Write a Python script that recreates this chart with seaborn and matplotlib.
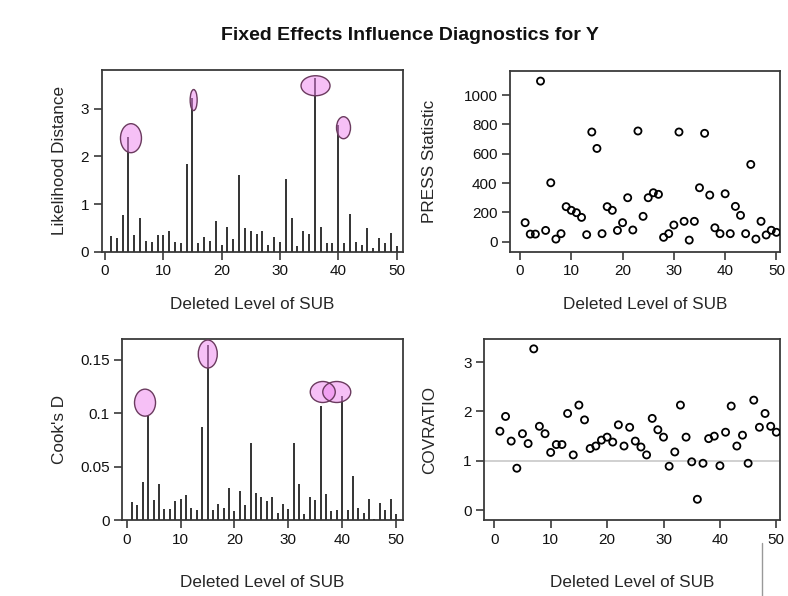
import matplotlib
matplotlib.use("Agg")
import matplotlib.pyplot as plt
import seaborn as sns
import pandas as pd
from matplotlib.patches import Ellipse
from matplotlib.transforms import ScaledTranslation
from matplotlib.lines import Line2D

# ---------------- data ----------------
sub = list(range(1, 51))

lik_dist = [0.33, 0.28, 0.77, 2.41, 0.36, 0.70, 0.23, 0.20, 0.34, 0.36,
            0.44, 0.20, 0.18, 1.84, 3.22, 0.18, 0.31, 0.23, 0.64, 0.15,
            0.52, 0.26, 1.61, 0.49, 0.44, 0.38, 0.44, 0.15, 0.31, 0.20,
            1.53, 0.70, 0.13, 0.44, 0.38, 3.65, 0.52, 0.18, 0.18, 2.66,
            0.18, 0.80, 0.20, 0.15, 0.49, 0.08, 0.28, 0.18, 0.39, 0.13]

press = [130, 52, 52, 1095, 77, 402, 18, 55, 239, 214,
         198, 166, 48, 748, 636, 55, 239, 214, 77, 130,
         300, 80, 755, 173, 300, 334, 323, 30, 55, 114,
         748, 139, 11, 139, 368, 739, 318, 95, 55, 327,
         55, 241, 180, 55, 527, 18, 139, 46, 78, 64]

cooks_d = [0.0172, 0.0140, 0.0360, 0.0975, 0.0184, 0.0340, 0.0103, 0.0103, 0.0175, 0.0197,
           0.0234, 0.0116, 0.0090, 0.0875, 0.1640, 0.0090, 0.0150, 0.0116, 0.0300, 0.0080,
           0.0270, 0.0140, 0.0720, 0.0256, 0.0220, 0.0175, 0.0220, 0.0070, 0.0150, 0.0103,
           0.0720, 0.0340, 0.0060, 0.0220, 0.0188, 0.1070, 0.0247, 0.0080, 0.0090, 0.1160,
           0.0090, 0.0410, 0.0116, 0.0070, 0.0200, 0.0010, 0.0156, 0.0097, 0.0197, 0.0056]

covratio = [1.60, 1.90, 1.40, 0.85, 1.55, 1.35, 3.27, 1.70, 1.55, 1.17,
            1.33, 1.33, 1.96, 1.12, 2.13, 1.83, 1.25, 1.30, 1.42, 1.48,
            1.38, 1.73, 1.30, 1.68, 1.40, 1.28, 1.12, 1.86, 1.63, 1.48,
            0.89, 1.18, 2.13, 1.48, 0.98, 0.22, 0.95, 1.45, 1.50, 0.90,
            1.58, 2.11, 1.30, 1.52, 0.95, 2.23, 1.68, 1.96, 1.70, 1.58]

# highlighted (circled) observations: centres in data units
lik_mark_x = [4.45, 15.2, 36.1, 40.9]
lik_mark_y = [2.38, 3.18, 3.48, 2.60]
cook_mark_x = [3.4, 15.05, 36.4, 39.0]
cook_mark_y = [0.110, 0.1556, 0.120, 0.120]

title = "Fixed Effects Influence Diagnostics for Y"
xlabel = "Deleted Level of SUB"
x_ticks = [0, 10, 20, 30, 40, 50]

df = pd.DataFrame({"SUB": sub, "LD": lik_dist, "PRESS": press,
                   "CookD": cooks_d, "COVRATIO": covratio})

# ---------------- style ----------------
sns.set_style("white")
plt.rcParams["font.family"] = ["Liberation Sans", "DejaVu Sans"]
plt.rcParams["axes.edgecolor"] = "#3a3a3a"
plt.rcParams["axes.linewidth"] = 1.3
plt.rcParams["xtick.color"] = "#3a3a3a"
plt.rcParams["ytick.color"] = "#3a3a3a"
plt.rcParams["xtick.labelcolor"] = "#111111"
plt.rcParams["ytick.labelcolor"] = "#111111"

W, H = 788, 596
fig = plt.figure(figsize=(W / 100, H / 100), dpi=100)


def add_axes_px(L, R, T, B):
    return fig.add_axes([L / W, 1 - B / H, (R - L) / W, (B - T) / H])


def style_axes(ax, box, ylab, ylab_x, xlab_y):
    L, R, T, B = box
    ax.set_xticks(x_ticks)
    ax.tick_params(axis="both", direction="out", length=6, width=1.2,
                   labelsize=11, pad=3, bottom=True, left=True)
    for s in ax.spines.values():
        s.set_visible(True)
        s.set_color("#3a3a3a")
        s.set_linewidth(1.3)
    ax.set_ylabel(ylab, fontsize=12.3)
    ax.set_xlabel(xlabel, fontsize=12.3)
    ax.yaxis.set_label_coords((ylab_x - L) / (R - L), 0.5)
    ax.xaxis.set_label_coords(0.5, -(xlab_y - B) / (B - T))
    ax.grid(False)


def add_marks(ax, xs, ys, ws, hs):
    for x, y, w, h in zip(xs, ys, ws, hs):
        e = Ellipse((0, 0), w / 100, h / 100,
                    transform=fig.dpi_scale_trans + ScaledTranslation(x, y, ax.transData),
                    facecolor="#ee82ee", alpha=0.5, edgecolor="none", zorder=4)
        ax.add_patch(e)
        e2 = Ellipse((0, 0), w / 100, h / 100,
                     transform=fig.dpi_scale_trans + ScaledTranslation(x, y, ax.transData),
                     facecolor="none", edgecolor="#6b3b5f", lw=1.0, zorder=5)
        ax.add_patch(e2)


needle_color = "#333333"

# ---- Panel 1: Likelihood distance ----
box1 = (101.7, 403, 70, 251.7)
ax1 = add_axes_px(*box1)
ax1.vlines(df["SUB"], 0, df["LD"], color=needle_color, lw=1.4, zorder=3)
ax1.set_xlim(-0.57, 51.1)
ax1.set_ylim(0, 3.81)
ax1.set_yticks([0, 1, 2, 3])
style_axes(ax1, box1, "Likelihood Distance", 67, 297)
add_marks(ax1, lik_mark_x, lik_mark_y, [21, 7, 29, 14], [29, 21, 20, 22])

# ---- Panel 2: PRESS ----
box2 = (510, 780, 70.7, 251.7)
ax2 = add_axes_px(*box2)
sns.scatterplot(data=df, x="SUB", y="PRESS", ax=ax2, marker="o", s=26,
                facecolor="none", edgecolor="black", linewidth=1.3, zorder=3)
ax2.set_xlim(-1.95, 50.7)
ax2.set_ylim(-68, 1166)
ax2.set_yticks([0, 200, 400, 600, 800, 1000])
style_axes(ax2, box2, "PRESS Statistic", 437, 297)

# ---- Panel 3: Cook's D ----
box3 = (122.3, 403, 339.3, 520)
ax3 = add_axes_px(*box3)
ax3.vlines(df["SUB"], 0, df["CookD"], color=needle_color, lw=1.4, zorder=3)
ax3.set_xlim(-0.82, 51.3)
ax3.set_ylim(0, 0.1694)
ax3.set_yticks([0, 0.05, 0.1, 0.15])
ax3.set_yticklabels(["0", "0.05", "0.1", "0.15"])
style_axes(ax3, box3, "Cook's D", 67, 575)
add_marks(ax3, cook_mark_x, cook_mark_y, [21, 19, 25, 28], [27, 28, 21, 21])

# ---- Panel 4: COVRATIO ----
box4 = (484, 780, 339, 520)
ax4 = add_axes_px(*box4)
ax4.axhline(1, color="#c8c8c8", lw=1.2, zorder=1)
sns.scatterplot(data=df, x="SUB", y="COVRATIO", ax=ax4, marker="o", s=26,
                facecolor="none", edgecolor="black", linewidth=1.3, zorder=3)
ax4.set_xlim(-1.82, 50.65)
ax4.set_ylim(-0.2, 3.47)
ax4.set_yticks([0, 1, 2, 3])
style_axes(ax4, box4, "COVRATIO", 437, 575)

fig.text(410 / W, 1 - 35 / H, title, ha="center", va="center",
         fontsize=14, fontweight="bold", color="#111111")

fig.add_artist(Line2D([762 / W, 762 / W], [0, 1 - 543 / H], color="#999999",
                      lw=1.0, transform=fig.transFigure))

fig.savefig("out.png", dpi=100)
